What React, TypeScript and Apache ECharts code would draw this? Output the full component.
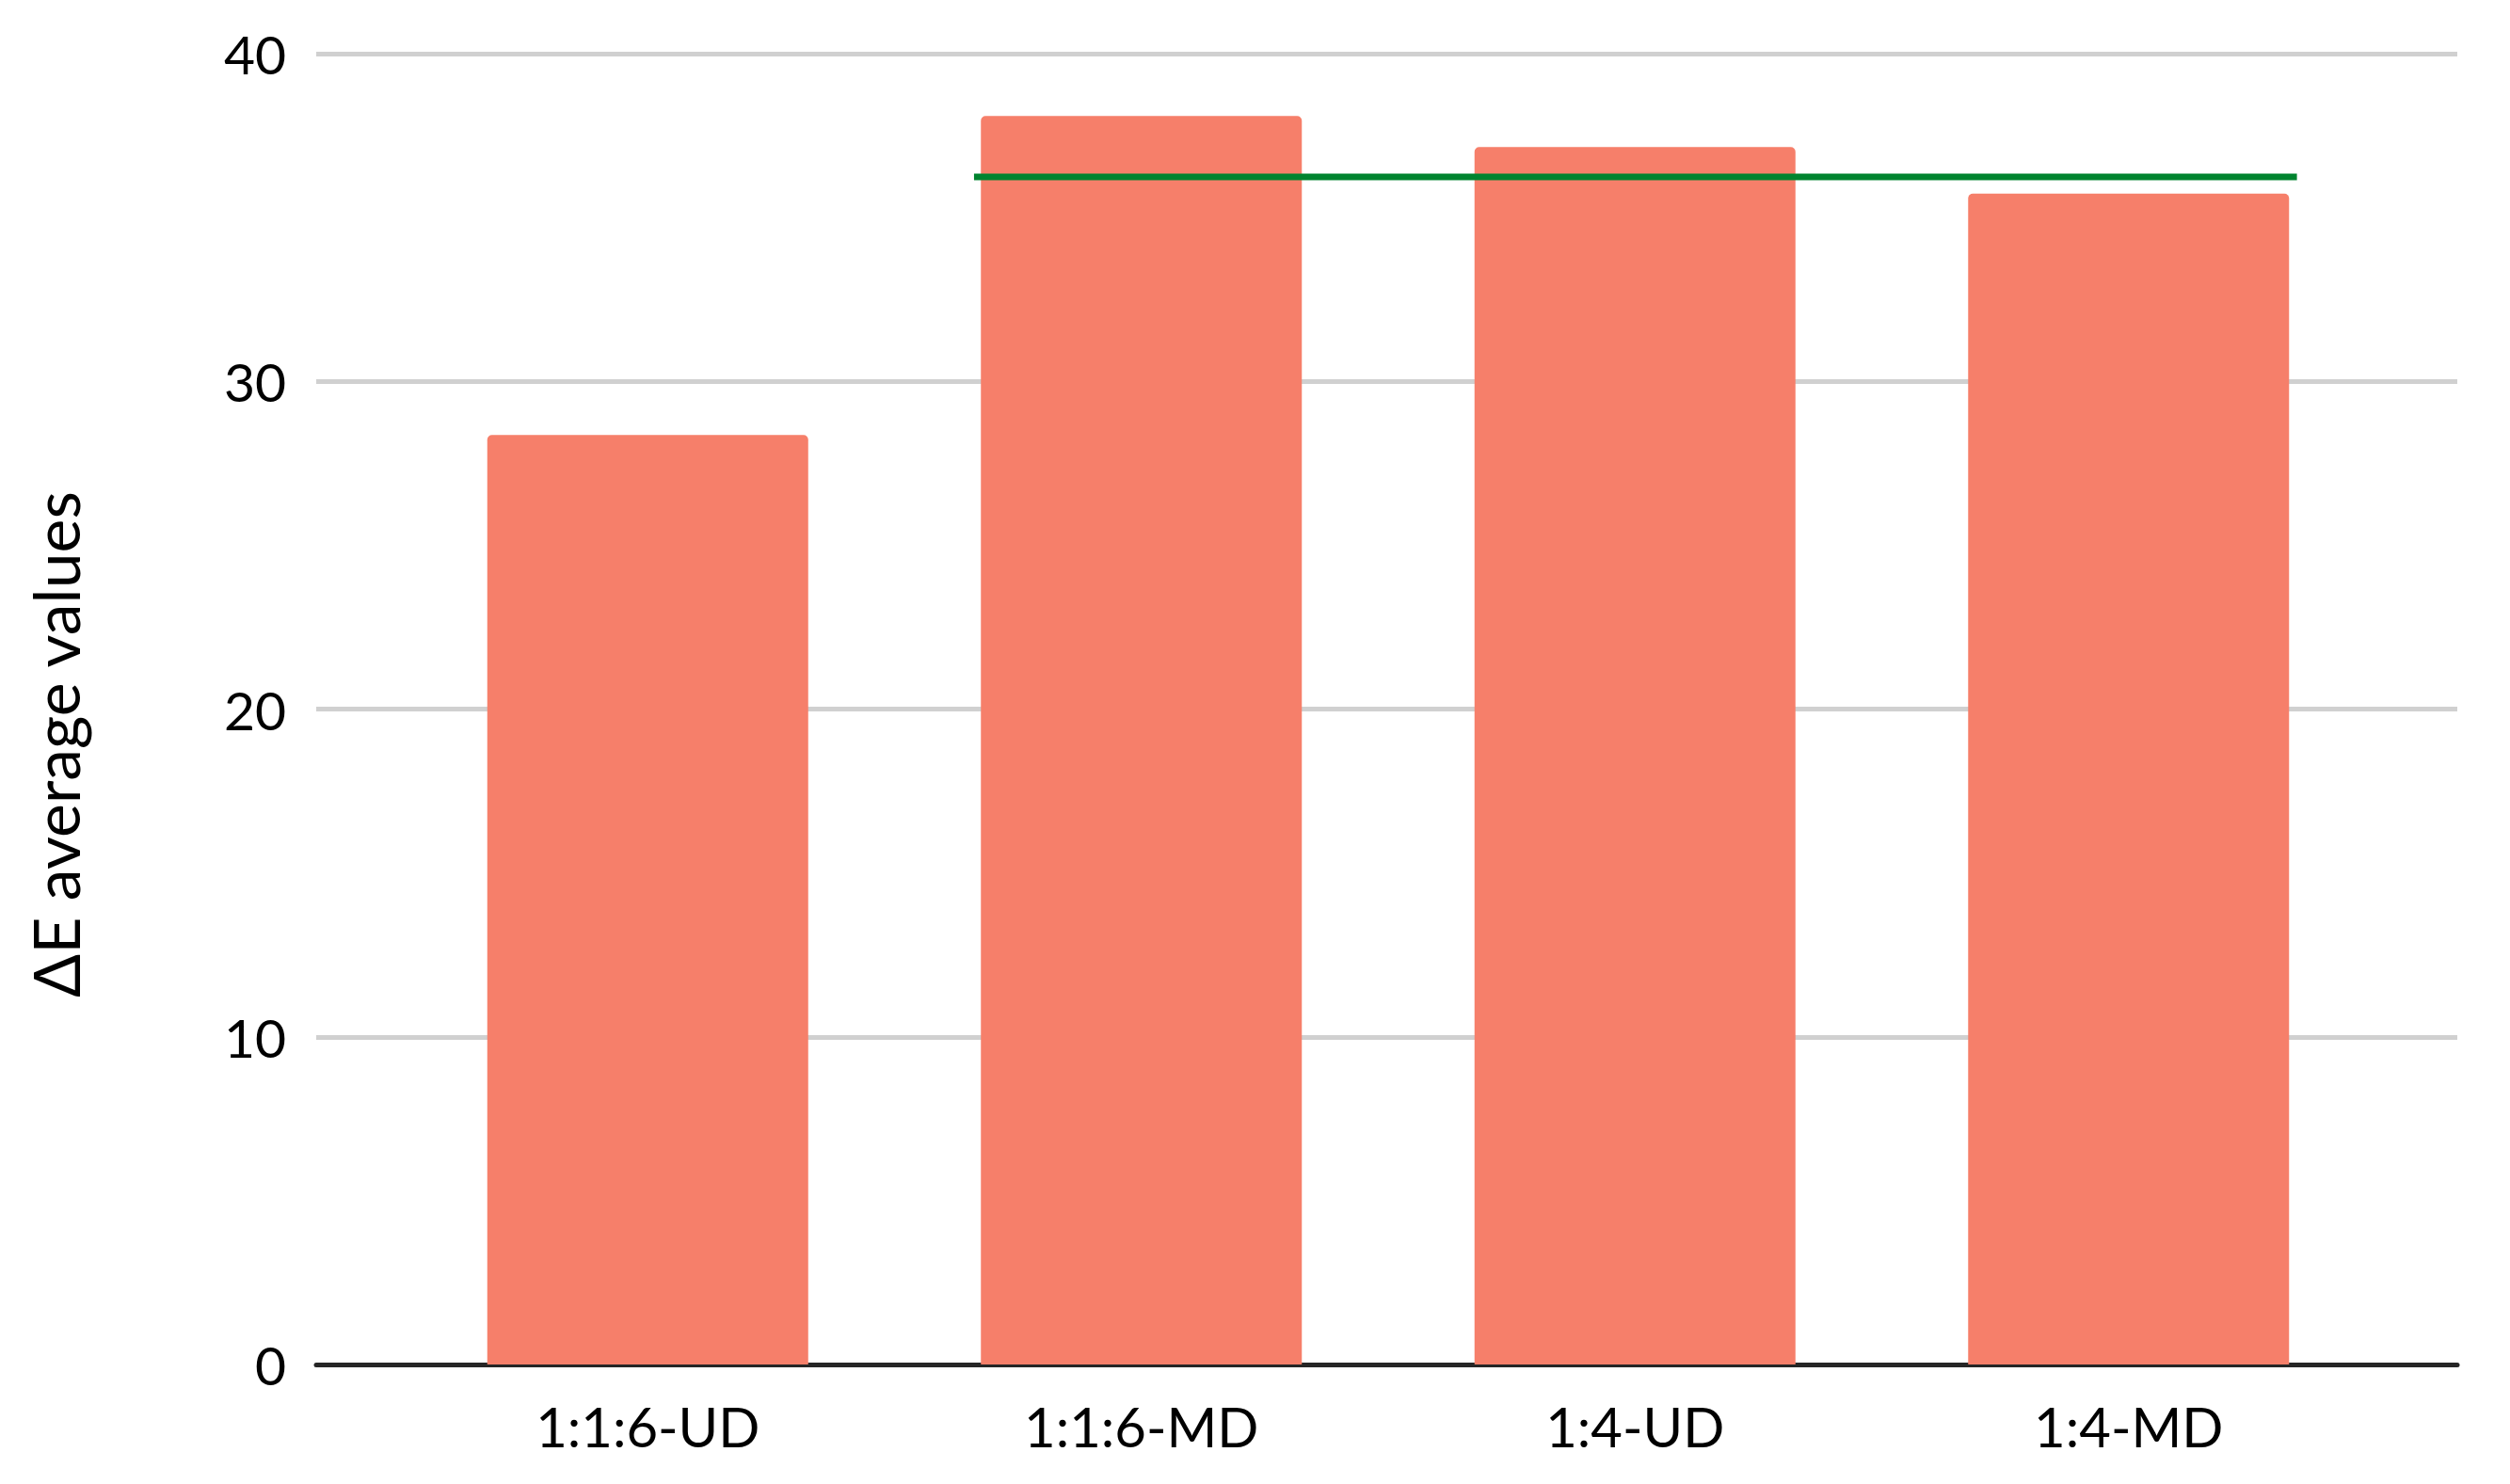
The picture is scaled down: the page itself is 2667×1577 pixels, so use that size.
import React, { useEffect, useRef } from "react";
import * as echarts from "echarts";

const categories = ["1:1:6-UD", "1:1:6-MD", "1:4-UD", "1:4-MD"];
const barValues = [28.36, 38.1, 37.15, 35.73];
// horizontal reference line: [category position, value]
const refLine = [
  [0.661, 36.24],
  [3.341, 36.24],
];
const yTicks = { min: 0, max: 40, interval: 10 };
const yTitle = "ΔE average values";

const FONT = "Lato";

export default function App() {
  const ref = useRef<HTMLDivElement>(null);
  useEffect(() => {
    document.body.style.margin = "0";
    const chart = echarts.init(ref.current!, undefined, { renderer: "svg" });
    const top = 57;
    const bottom = 1577 - 1450;
    chart.setOption({
      animation: false,
      backgroundColor: "#ffffff",
      grid: [
        { left: 336, right: 2667 - 2611, top, bottom },
        { left: 426, right: 2667 - 2524, top, bottom },
      ],
      xAxis: [
        {
          gridIndex: 0,
          type: "value",
          min: 0,
          max: 1,
          axisLine: { show: true, onZero: false, lineStyle: { color: "#262626", width: 5 } },
          axisTick: { show: false },
          axisLabel: { show: false },
          splitLine: { show: false },
        },
        {
          gridIndex: 1,
          type: "category",
          data: categories,
          axisLine: { show: false },
          axisTick: { show: false },
          axisLabel: {
            show: true,
            color: "#000000",
            fontFamily: FONT,
            fontSize: 58,
            margin: 36,
          },
        },
        {
          gridIndex: 1,
          type: "value",
          min: -0.5,
          max: 3.5,
          show: false,
        },
      ],
      yAxis: [
        {
          gridIndex: 0,
          type: "value",
          min: yTicks.min,
          max: yTicks.max,
          interval: yTicks.interval,
          axisLine: { show: false },
          axisTick: { show: false },
          axisLabel: {
            color: "#000000",
            fontFamily: FONT,
            fontSize: 57,
            margin: 32,
          },
          splitLine: { show: true, lineStyle: { color: "#d0d0d0", width: 5 } },
        },
        {
          gridIndex: 1,
          type: "value",
          min: yTicks.min,
          max: yTicks.max,
          interval: yTicks.interval,
          show: false,
          splitLine: { show: false },
        },
      ],
      series: [
        {
          type: "bar",
          xAxisIndex: 1,
          yAxisIndex: 1,
          data: barValues,
          barWidth: 341,
          itemStyle: { color: "#f67f6a", borderRadius: [5, 5, 0, 0] },
          z: 2,
        },
        {
          type: "line",
          xAxisIndex: 2,
          yAxisIndex: 1,
          data: refLine,
          symbol: "none",
          lineStyle: { color: "#00842f", width: 7 },
          z: 3,
        },
      ],
      graphic: [
        {
          type: "text",
          x: 58,
          y: 791,
          rotation: Math.PI / 2,
          style: {
            text: yTitle,
            fontFamily: FONT,
            fontSize: 68,
            fill: "#000000",
            align: "center",
            verticalAlign: "middle",
          },
        },
      ],
    });
    return () => chart.dispose();
  }, []);
  return <div ref={ref} style={{ width: 2667, height: 1577 }} />;
}
